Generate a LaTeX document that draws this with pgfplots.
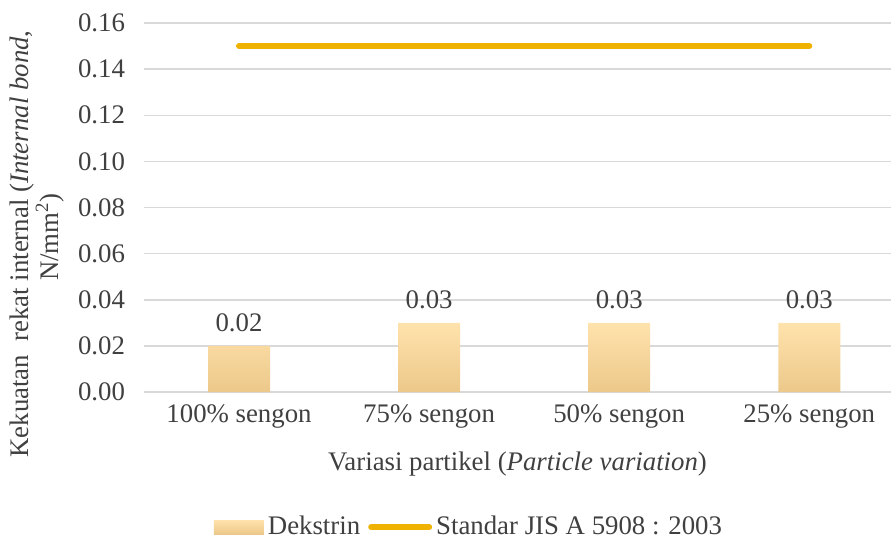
\documentclass[border=0pt]{standalone}
\usepackage{fontspec}
\setmainfont{Liberation Serif}
\usepackage{pgfplots}
\pgfplotsset{compat=1.18}
\usetikzlibrary{calc}
\definecolor{txtgray}{RGB}{64,64,64}
\definecolor{gridgray}{RGB}{217,217,217}
\definecolor{bartop}{RGB}{255,226,172}
\definecolor{barbot}{RGB}{236,200,138}
\definecolor{jisgold}{RGB}{240,178,0}

\begin{document}
\begin{tikzpicture}
\begin{axis}[
    name=ax,
    scale only axis,
    clip=false,
    width=373.5pt, height=184.5pt,
    xmin=-0.5, xmax=3.43,
    ymin=0, ymax=0.16,
    ytick={0,0.02,...,0.16},
    xtick={0,1,2,3},
    xticklabels={100\% sengon, 75\% sengon, 50\% sengon, 25\% sengon},
    axis line style={draw=none},
    major tick length=0pt,
    ymajorgrids, grid style={gridgray, line width=0.75pt},
    font=\fontsize{13.4}{15}\selectfont,
    every tick label/.append style={text=txtgray},
    /pgf/number format/assume math mode=true,
    yticklabel style={xshift=-6pt, /pgf/number format/fixed, /pgf/number format/fixed zerofill,
        /pgf/number format/precision=2},
    xticklabel style={yshift=-3pt},
    xlabel={Variasi partikel (\textit{Particle variation})},
    xlabel style={at={(axis description cs:0.5,-0.195)}, anchor=center, text=txtgray},
    ylabel={Kekuatan~ rekat internal (\textit{Internal bond},},
    ylabel style={at={(axis description cs:-0.163,0.401)}, anchor=center, text=txtgray},
    legend columns=2,
    legend style={draw=none, fill=none, at={(axis description cs:0.085,-0.366)}, anchor=west,
        text=txtgray, font=\fontsize{13.4}{15}\selectfont,
        /tikz/every even column/.append style={column sep=2pt}},
]
\addplot[ybar, bar width=31pt, draw=none, top color=bartop, bottom color=barbot,
    nodes near coords,
    every node near coord/.append style={text=txtgray, yshift=3.5pt,
        /pgf/number format/fixed, /pgf/number format/fixed zerofill,
        /pgf/number format/precision=2},
    legend image code/.code={\fill[top color=bartop, bottom color=barbot, draw=none]
        (0pt,-3.5pt) rectangle (25pt,3.5pt);}]
  coordinates {(0,0.02) (1,0.03) (2,0.03) (3,0.03)};
\addlegendentry{Dekstrin}
\addplot[jisgold, line width=3pt, line cap=round, mark=none,
    legend image code/.code={\draw[jisgold, line width=3pt, line cap=round]
        (0pt,0pt) -- (29pt,0pt);}]
  coordinates {(0,0.15) (3,0.15)};
\addlegendentry{Standar JIS A 5908 : 2003}
\node[rotate=90, anchor=center, text=txtgray, font=\fontsize{13.4}{15}\selectfont]
  at (axis description cs:-0.126,0.42) {N/mm\textsuperscript{2})};
\end{axis}
\pgfresetboundingbox
\path ($(ax.south west)+(-72pt,-75pt)$) rectangle ($(ax.north east)+(0pt,11.5pt)$);
\end{tikzpicture}
\end{document}
